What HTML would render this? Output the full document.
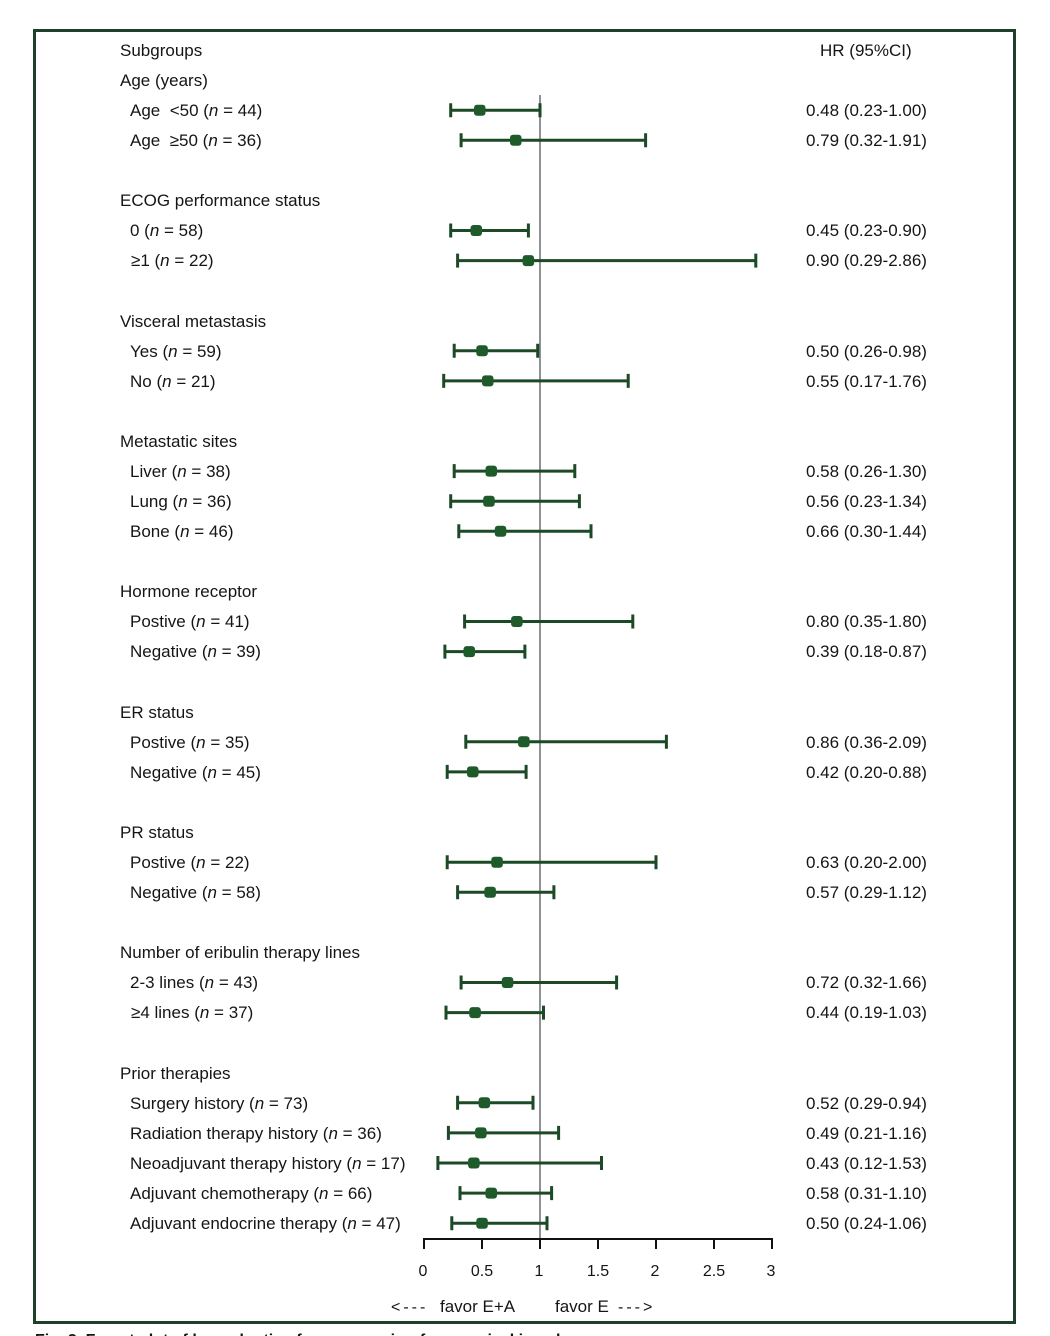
<!DOCTYPE html>
<html>
<head>
<meta charset="utf-8">
<style>
html,body{margin:0;padding:0;background:#fff;}
body{width:1050px;height:1336px;overflow:hidden;}
svg{display:block;}
text{font-family:"Liberation Sans",Arial,sans-serif;font-size:17px;fill:#151515;}
.it{font-style:italic;}
</style>
</head>
<body>
<svg width="1050" height="1336" viewBox="0 0 1050 1336" xmlns="http://www.w3.org/2000/svg">
<rect x="0" y="0" width="1050" height="1336" fill="#fff"/>
<!-- frame -->
<rect x="34.5" y="30.5" width="980" height="1292" fill="none" stroke="#1c4029" stroke-width="3"/>

<!-- reference line at HR=1 -->
<line x1="540" y1="95" x2="540" y2="1240" stroke="#55555f" stroke-width="1.3"/>

<!-- left labels -->
<g>
<text x="120" y="56">Subgroups</text>
<text x="120" y="86">Age (years)</text>
<text x="130" y="116">Age&#160; &lt;50 (<tspan class="it">n</tspan> = 44)</text>
<text x="130" y="146">Age&#160; ≥50 (<tspan class="it">n</tspan> = 36)</text>

<text x="120" y="206">ECOG performance status</text>
<text x="130" y="236">0 (<tspan class="it">n</tspan> = 58)</text>
<text x="131" y="266">≥1 (<tspan class="it">n</tspan> = 22)</text>

<text x="120" y="327">Visceral metastasis</text>
<text x="130" y="357">Yes (<tspan class="it">n</tspan> = 59)</text>
<text x="130" y="387">No (<tspan class="it">n</tspan> = 21)</text>

<text x="120" y="447">Metastatic sites</text>
<text x="130" y="477">Liver (<tspan class="it">n</tspan> = 38)</text>
<text x="130" y="507">Lung (<tspan class="it">n</tspan> = 36)</text>
<text x="130" y="537">Bone (<tspan class="it">n</tspan> = 46)</text>

<text x="120" y="597">Hormone receptor</text>
<text x="130" y="627">Postive (<tspan class="it">n</tspan> = 41)</text>
<text x="130" y="657">Negative (<tspan class="it">n</tspan> = 39)</text>

<text x="120" y="718">ER status</text>
<text x="130" y="748">Postive (<tspan class="it">n</tspan> = 35)</text>
<text x="130" y="778">Negative (<tspan class="it">n</tspan> = 45)</text>

<text x="120" y="838">PR status</text>
<text x="130" y="868">Postive (<tspan class="it">n</tspan> = 22)</text>
<text x="130" y="898">Negative (<tspan class="it">n</tspan> = 58)</text>

<text x="120" y="958">Number of eribulin therapy lines</text>
<text x="130" y="988">2-3 lines (<tspan class="it">n</tspan> = 43)</text>
<text x="131" y="1018">≥4 lines (<tspan class="it">n</tspan> = 37)</text>

<text x="120" y="1079">Prior therapies</text>
<text x="130" y="1109">Surgery history (<tspan class="it">n</tspan> = 73)</text>
<text x="130" y="1139">Radiation therapy history (<tspan class="it">n</tspan> = 36)</text>
<text x="130" y="1169">Neoadjuvant therapy history (<tspan class="it">n</tspan> = 17)</text>
<text x="130" y="1199">Adjuvant chemotherapy (<tspan class="it">n</tspan> = 66)</text>
<text x="130" y="1229">Adjuvant endocrine therapy (<tspan class="it">n</tspan> = 47)</text>
</g>

<!-- right column -->
<g>
<text x="820" y="56">HR (95%CI)</text>
<text x="806" y="116">0.48 (0.23-1.00)</text>
<text x="806" y="146">0.79 (0.32-1.91)</text>
<text x="806" y="236">0.45 (0.23-0.90)</text>
<text x="806" y="266">0.90 (0.29-2.86)</text>
<text x="806" y="357">0.50 (0.26-0.98)</text>
<text x="806" y="387">0.55 (0.17-1.76)</text>
<text x="806" y="477">0.58 (0.26-1.30)</text>
<text x="806" y="507">0.56 (0.23-1.34)</text>
<text x="806" y="537">0.66 (0.30-1.44)</text>
<text x="806" y="627">0.80 (0.35-1.80)</text>
<text x="806" y="657">0.39 (0.18-0.87)</text>
<text x="806" y="748">0.86 (0.36-2.09)</text>
<text x="806" y="778">0.42 (0.20-0.88)</text>
<text x="806" y="868">0.63 (0.20-2.00)</text>
<text x="806" y="898">0.57 (0.29-1.12)</text>
<text x="806" y="988">0.72 (0.32-1.66)</text>
<text x="806" y="1018">0.44 (0.19-1.03)</text>
<text x="806" y="1109">0.52 (0.29-0.94)</text>
<text x="806" y="1139">0.49 (0.21-1.16)</text>
<text x="806" y="1169">0.43 (0.12-1.53)</text>
<text x="806" y="1199">0.58 (0.31-1.10)</text>
<text x="806" y="1229">0.50 (0.24-1.06)</text>
</g>

<!-- forest rows: x = 424 + v*116 -->
<g stroke="#1d4a26" stroke-width="3" fill="none">
<path d="M450.7 110.2H540M450.7 103.2v14M540 103.2v14"/>
<path d="M461.1 140.2H645.6M461.1 133.2v14M645.6 133.2v14"/>
<path d="M450.7 230.5H528.4M450.7 223.5v14M528.4 223.5v14"/>
<path d="M457.6 260.6H755.8M457.6 253.6v14M755.8 253.6v14"/>
<path d="M454.2 350.8H537.7M454.2 343.8v14M537.7 343.8v14"/>
<path d="M443.7 380.9H628.2M443.7 373.9v14M628.2 373.9v14"/>
<path d="M454.2 471.1H574.8M454.2 464.1v14M574.8 464.1v14"/>
<path d="M450.7 501.2H579.4M450.7 494.2v14M579.4 494.2v14"/>
<path d="M458.8 531.3H591M458.8 524.3v14M591 524.3v14"/>
<path d="M464.6 621.5H632.8M464.6 614.5v14M632.8 614.5v14"/>
<path d="M444.9 651.6H524.9M444.9 644.6v14M524.9 644.6v14"/>
<path d="M465.8 741.8H666.4M465.8 734.8v14M666.4 734.8v14"/>
<path d="M447.2 771.9H526.1M447.2 764.9v14M526.1 764.9v14"/>
<path d="M447.2 862.2H656M447.2 855.2v14M656 855.2v14"/>
<path d="M457.6 892.3H553.9M457.6 885.3v14M553.9 885.3v14"/>
<path d="M461.1 982.5H616.6M461.1 975.5v14M616.6 975.5v14"/>
<path d="M446 1012.6H543.5M446 1005.6v14M543.5 1005.6v14"/>
<path d="M457.6 1102.8H533M457.6 1095.8v14M533 1095.8v14"/>
<path d="M448.4 1132.9H558.6M448.4 1125.9v14M558.6 1125.9v14"/>
<path d="M437.9 1163H601.5M437.9 1156v14M601.5 1156v14"/>
<path d="M460 1193.1H551.6M460 1186.1v14M551.6 1186.1v14"/>
<path d="M451.8 1223.2H547M451.8 1216.2v14M547 1216.2v14"/>
</g>

<!-- markers -->
<g fill="#1e5a2a">
<rect x="474" y="104.7" width="11.5" height="11" rx="3"/>
<rect x="510" y="134.7" width="11.5" height="11" rx="3"/>
<rect x="470.5" y="225" width="11.5" height="11" rx="3"/>
<rect x="522.6" y="255.1" width="11.5" height="11" rx="3"/>
<rect x="476.3" y="345.3" width="11.5" height="11" rx="3"/>
<rect x="482" y="375.4" width="11.5" height="11" rx="3"/>
<rect x="485.5" y="465.6" width="11.5" height="11" rx="3"/>
<rect x="483.2" y="495.7" width="11.5" height="11" rx="3"/>
<rect x="494.8" y="525.8" width="11.5" height="11" rx="3"/>
<rect x="511.1" y="616" width="11.5" height="11" rx="3"/>
<rect x="463.5" y="646.1" width="11.5" height="11" rx="3"/>
<rect x="518.1" y="736.3" width="11.5" height="11" rx="3"/>
<rect x="467" y="766.4" width="11.5" height="11" rx="3"/>
<rect x="491.3" y="856.7" width="11.5" height="11" rx="3"/>
<rect x="484.4" y="886.8" width="11.5" height="11" rx="3"/>
<rect x="501.8" y="977" width="11.5" height="11" rx="3"/>
<rect x="469.3" y="1007.1" width="11.5" height="11" rx="3"/>
<rect x="478.6" y="1097.3" width="11.5" height="11" rx="3"/>
<rect x="475.1" y="1127.4" width="11.5" height="11" rx="3"/>
<rect x="468.1" y="1157.5" width="11.5" height="11" rx="3"/>
<rect x="485.5" y="1187.6" width="11.5" height="11" rx="3"/>
<rect x="476.3" y="1217.7" width="11.5" height="11" rx="3"/>
</g>

<!-- x axis -->
<g stroke="#111" stroke-width="2" fill="none">
<path d="M424 1239H772"/>
<path d="M424 1238v11M482 1238v11M540 1238v11M598 1238v11M656 1238v11M714 1238v11M772 1238v11"/>
</g>
<g text-anchor="middle">
<text x="423" y="1276" style="font-size:16px">0</text>
<text x="482" y="1276" style="font-size:16px">0.5</text>
<text x="539" y="1276" style="font-size:16px">1</text>
<text x="598" y="1276" style="font-size:16px">1.5</text>
<text x="655" y="1276" style="font-size:16px">2</text>
<text x="714" y="1276" style="font-size:16px">2.5</text>
<text x="771" y="1276" style="font-size:16px">3</text>
</g>
<text x="391" y="1312" style="font-size:16px;letter-spacing:3px">&lt;---</text>
<text x="440" y="1312" style="font-size:17px">favor E+A</text>
<text x="555" y="1312" style="font-size:17px">favor E</text>
<text x="618" y="1312" style="font-size:16px;letter-spacing:3px">---&gt;</text>

<!-- clipped caption -->
<text x="35" y="1345" style="font-size:16px;font-weight:bold">Fig. 3. Forest plot of hazard ratios for progression-free survival in subgroups</text>
</svg>
</body>
</html>
